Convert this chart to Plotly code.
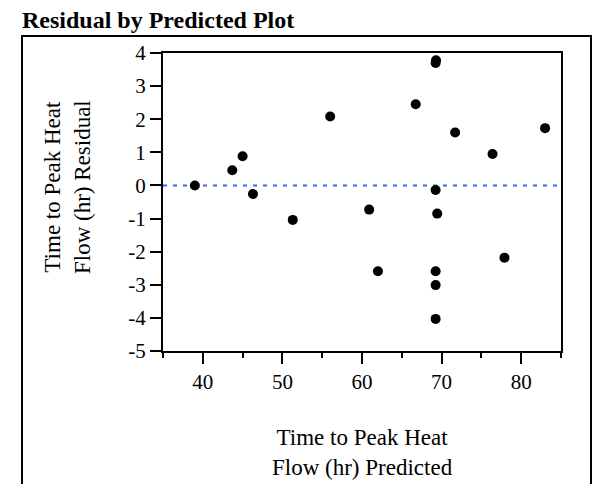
import plotly.graph_objects as go

W, H = 596, 484

predicted = [39.0, 43.7, 45.0, 46.3, 51.3, 56.0, 60.9, 62.0, 66.75, 69.25, 69.3,
             69.25, 69.45, 69.25, 69.25, 69.25, 71.7, 76.4, 77.9, 83.0]
residual = [0.0, 0.46, 0.88, -0.26, -1.04, 2.08, -0.73, -2.59, 2.45, 3.70, 3.78,
            -0.14, -0.85, -2.59, -3.01, -4.03, 1.60, 0.95, -2.18, 1.73]

x_tickvals = [40, 50, 60, 70, 80]
x_ticktext = ["40", "50", "60", "70", "80"]
y_tickvals = [4, 3, 2, 1, 0, -1, -2, -3, -4, -5]
y_ticktext = ["4", "3", "2", "1", "0", "-1", "-2", "-3", "-4", "-5"]

title_text = "Residual by Predicted Plot"
x_title = "Time to Peak Heat<br>Flow (hr) Predicted"
y_title = "Time to Peak Heat<br>Flow (hr) Residual"

FONT = "Liberation Serif"

# plot area in pixels
PL, PR, PT, PB = 163, 561, 53, 351

def px(x):
    return x / W

def py(y):
    return 1 - y / H

fig = go.Figure()
fig.add_trace(go.Scatter(
    x=predicted, y=residual, mode="markers",
    marker=dict(color="black", size=10, line=dict(width=0)),
    showlegend=False, hoverinfo="skip"))

fig.add_hline(y=0, line=dict(color="rgb(51,102,255)", width=2, dash="4px,6px"),
              layer="below")

fig.update_layout(
    width=W, height=H,
    margin=dict(l=0, r=0, t=0, b=0),
    paper_bgcolor="white", plot_bgcolor="white",
    font=dict(family=FONT, color="black", size=21),
    xaxis=dict(domain=[px(PL), px(PR)], range=[35, 85], showgrid=False, zeroline=False,
               showline=True, linecolor="black", linewidth=2, mirror=True,
               ticks="outside", ticklen=11, tickwidth=2, tickcolor="black",
               tickvals=x_tickvals, ticktext=x_ticktext,
               tickfont=dict(family=FONT, size=21, color="black"),
               minor=dict(ticks="outside", ticklen=5, tickwidth=2, tickcolor="black",
                          tick0=35, dtick=5),
               automargin=False),
    yaxis=dict(domain=[py(PB), py(PT)], range=[-5, 4], showgrid=False, zeroline=False,
               showline=True, linecolor="black", linewidth=2, mirror=True,
               ticks="outside", ticklen=11, tickwidth=2, tickcolor="black",
               tickvals=y_tickvals, ticktext=y_ticktext,
               tickfont=dict(family=FONT, size=21, color="black"),
               automargin=False),
    shapes=[
        dict(type="line", xref="paper", yref="paper", x0=px(7), x1=px(7), y0=0, y1=1,
             line=dict(color="black", width=2)),
        dict(type="path", xref="paper", yref="paper",
             path=f"M {px(22)},{py(490)} L {px(22)},{py(36)} L {px(591)},{py(36)} L {px(591)},{py(490)}",
             line=dict(color="black", width=2)),
    ],
    annotations=[
        dict(text=f"<b>{title_text}</b>", xref="paper", yref="paper",
             x=px(20), y=py(20), xanchor="left", yanchor="middle", showarrow=False,
             font=dict(family=FONT, size=24, color="black")),
        dict(text=x_title, xref="paper", yref="paper",
             x=px(362), y=py(452), xanchor="center", yanchor="middle", showarrow=False,
             font=dict(family=FONT, size=23, color="black")),
        dict(text=y_title, xref="paper", yref="paper", textangle=-90,
             x=px(67), y=py(187), xanchor="center", yanchor="middle", showarrow=False,
             font=dict(family=FONT, size=23, color="black")),
    ],
)

fig.write_html("out.html")
